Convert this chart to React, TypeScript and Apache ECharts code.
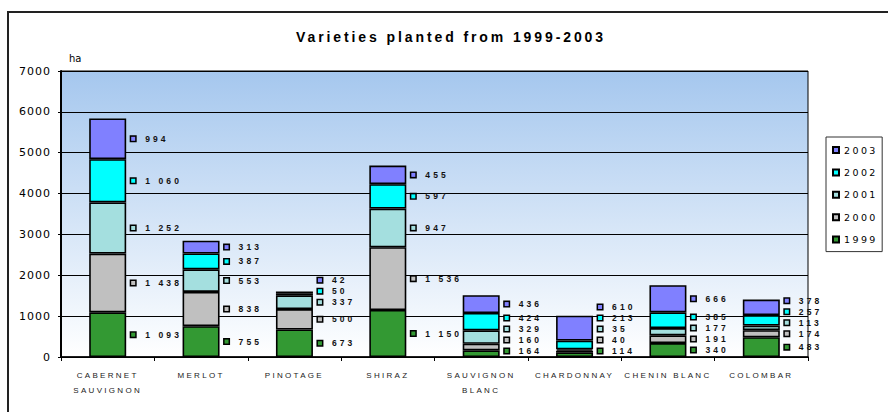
import React, { useEffect, useRef } from "react";
import * as echarts from "echarts";

// Hectares planted per variety, one array per planting year
const categories = [
  "CABERNET\nSAUVIGNON",
  "MERLOT",
  "PINOTAGE",
  "SHIRAZ",
  "SAUVIGNON\nBLANC",
  "CHARDONNAY",
  "CHENIN BLANC",
  "COLOMBAR",
];
const years = ["1999", "2000", "2001", "2002", "2003"];
const planted1999 = [1093, 755, 673, 1150, 164, 114, 340, 483];
const planted2000 = [1438, 838, 500, 1536, 160, 40, 191, 174];
const planted2001 = [1252, 553, 337, 947, 329, 35, 177, 113];
const planted2002 = [1060, 387, 50, 597, 424, 213, 385, 257];
const planted2003 = [994, 313, 42, 455, 436, 610, 666, 378];
const yearValues = [planted1999, planted2000, planted2001, planted2002, planted2003];
const yearColors = ["#339933", "#c0c0c0", "#a4dfdf", "#00ffff", "#8080ff"];
const legendOrder = ["2003", "2002", "2001", "2000", "1999"];
const yAxisMax = 7000;
const yAxisStep = 1000;

const TITLE = "Varieties planted from 1999-2003";
const UNIT = "ha";

// Font stacks; the fallback names let the stylesheet give each text group its own tracking
const TITLE_FONT = "Liberation Sans, Arimo";
const VALUE_FONT = "Liberation Sans, Albany";
const CATEGORY_FONT = "Liberation Sans, Helvetica";
const AXIS_FONT = "DejaVu Sans, Verdana";
const LEGEND_FONT = "DejaVu Sans, Tahoma";

const CHART_W = 888;
const CHART_H = 412;
const GRID = { left: 61, top: 71, right: 80, bottom: 55 };

const trackingCss = `
.varieties-chart text[style*="Arimo"] { letter-spacing: 2.9px; }
.varieties-chart text[style*="Albany"] { letter-spacing: 3.1px; }
.varieties-chart text[style*="Helvetica"] { letter-spacing: 2.3px; }
.varieties-chart text[style*="Verdana"] { letter-spacing: 1px; }
.varieties-chart text[style*="Tahoma"] { letter-spacing: 2.4px; }
`;

const formatHa = (v: number) => String(v).replace(/\B(?=(\d{3})+(?!\d))/g, " ");

export default function App() {
  const ref = useRef<HTMLDivElement>(null);

  useEffect(() => {
    const el = ref.current;
    if (!el) return;
    const chart = echarts.init(el, null, { renderer: "svg" });

    const toPixelY = (v: number): number => {
      let p: any = NaN;
      try {
        p = chart.convertToPixel({ yAxisIndex: 0 } as any, v);
      } catch (e) {
        p = NaN;
      }
      if (typeof p === "number" && isFinite(p)) return p;
      const h = CHART_H - GRID.top - GRID.bottom;
      return CHART_H - GRID.bottom - (v / yAxisMax) * h;
    };

    // Labels sit beside the middle of their segment, pushed upward so they never collide
    const labelCentres = (j: number): number[] => {
      const base = toPixelY(0);
      let cum = 0;
      const ys: number[] = [];
      yearValues.forEach((vals, i) => {
        const mid = toPixelY(cum + vals[j] / 2);
        cum += vals[j];
        const limit = i === 0 ? base - 6 : ys[i - 1] - 11;
        ys.push(Math.min(mid, limit));
      });
      return ys;
    };

    const series = years.map((year, i) => ({
      name: year,
      type: "bar",
      stack: "planted",
      barWidth: 37,
      data: yearValues[i],
      itemStyle: { color: yearColors[i], borderColor: "#000", borderWidth: 1.6 },
      emphasis: { disabled: true },
      label: {
        show: true,
        position: "right",
        distance: 6,
        formatter: (p: any) => `{m|}{v|${formatHa(p.value)}}`,
        rich: {
          m: {
            width: 4,
            height: 4,
            backgroundColor: yearColors[i],
            borderColor: "#000",
            borderWidth: 1.5,
          },
          v: {
            fontFamily: VALUE_FONT,
            fontSize: 8.5,
            fontWeight: "bold",
            color: "#111",
            padding: [0, 0, 0, 10],
          },
        },
      },
      labelLayout: (params: any) => ({
        x: params.rect.x + params.rect.width + 5,
        y: labelCentres(params.dataIndex)[i],
        align: "left",
        verticalAlign: "middle",
      }),
    }));

    chart.setOption({
      animation: false,
      graphic: [
        {
          type: "rect",
          silent: true,
          z: 100,
          shape: { x: 8, y: 12, width: 920, height: 440 },
          style: { fill: "none", stroke: "#222", lineWidth: 2 },
        },
        {
          type: "text",
          x: 451,
          y: 37,
          style: {
            text: TITLE,
            fontFamily: TITLE_FONT,
            fontSize: 14,
            fontWeight: "bold",
            fill: "#000",
            align: "center",
            verticalAlign: "middle",
          },
        },
        {
          type: "text",
          x: 69,
          y: 58,
          style: {
            text: UNIT,
            fontFamily: "DejaVu Sans",
            fontSize: 10,
            fill: "#000",
            align: "left",
            verticalAlign: "middle",
          },
        },
      ],
      legend: {
        orient: "vertical",
        left: 826,
        top: 137,
        data: legendOrder,
        icon: "rect",
        itemWidth: 6,
        itemHeight: 6,
        itemGap: 10.4,
        itemTextGap: 9,
        padding: [7, 14, 6, 6],
        borderColor: "#333",
        borderWidth: 1,
        backgroundColor: "#fff",
        selectedMode: false,
        textStyle: { fontFamily: LEGEND_FONT, fontSize: 9.5, color: "#000", lineHeight: 12 },
      },
      grid: {
        left: GRID.left,
        top: GRID.top,
        right: GRID.right,
        bottom: GRID.bottom,
        show: true,
        borderColor: "#000",
        borderWidth: 1,
        backgroundColor: new echarts.graphic.LinearGradient(0, 0, 0, 1, [
          { offset: 0, color: "#a5c7ee" },
          { offset: 1, color: "#ffffff" },
        ]),
      },
      xAxis: {
        type: "category",
        data: categories,
        axisLine: { lineStyle: { color: "#000", width: 1.5 } },
        axisTick: { show: true, length: 4, lineStyle: { color: "#000" } },
        axisLabel: {
          interval: 0,
          margin: 10.5,
          fontFamily: CATEGORY_FONT,
          fontSize: 8,
          lineHeight: 15,
          color: "#222",
        },
      },
      yAxis: {
        type: "value",
        min: 0,
        max: yAxisMax,
        interval: yAxisStep,
        axisLine: { show: true, lineStyle: { color: "#000", width: 2 } },
        axisTick: { show: true, length: 3, lineStyle: { color: "#000" } },
        axisLabel: {
          margin: 10,
          fontFamily: AXIS_FONT,
          fontSize: 11,
          color: "#000",
          formatter: (v: number) => String(v),
        },
        splitLine: { show: true, lineStyle: { color: "#000", width: 1 } },
      },
      series,
    } as any);

    return () => {
      chart.dispose();
    };
  }, []);

  return (
    <>
      <style>{trackingCss}</style>
      <div
        ref={ref}
        className="varieties-chart"
        style={{ position: "absolute", left: 0, top: 0, width: CHART_W, height: CHART_H, background: "#fff" }}
      />
    </>
  );
}
